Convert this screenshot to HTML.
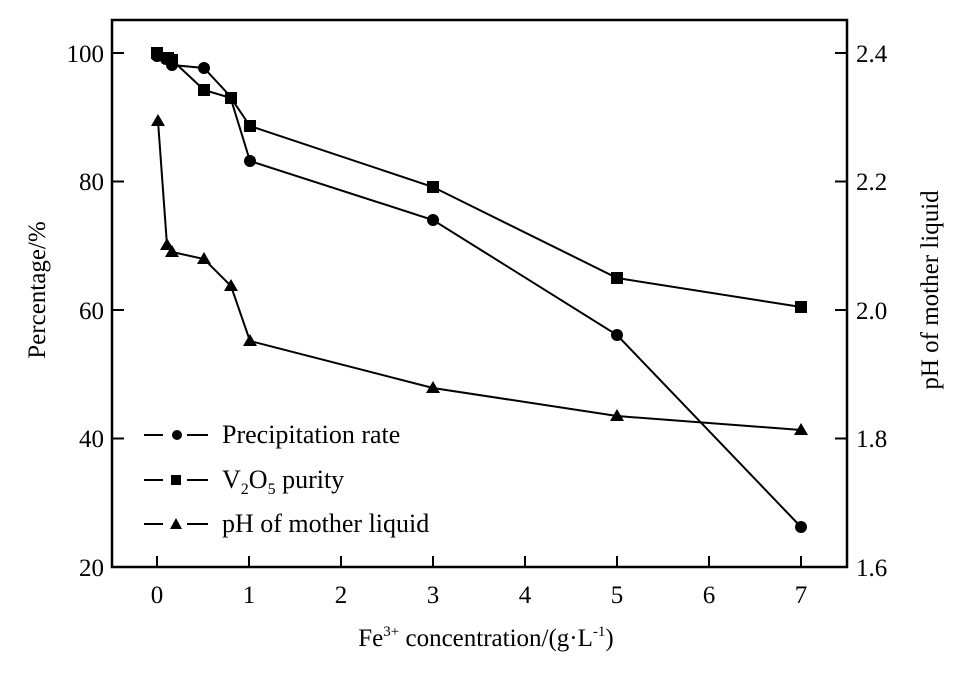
<!DOCTYPE html>
<html><head><style>body{margin:0;background:#fff}</style></head><body>
<svg width="965" height="676" xmlns="http://www.w3.org/2000/svg" font-family="Liberation Serif, serif" fill="#000">
<rect x="112" y="20" width="735" height="547" fill="none" stroke="#000" stroke-width="2.5"/>
<g stroke="#000" stroke-width="2">
<line x1="112" y1="53" x2="124" y2="53"/><line x1="112" y1="181.5" x2="124" y2="181.5"/><line x1="112" y1="310" x2="124" y2="310"/><line x1="112" y1="438.5" x2="124" y2="438.5"/>
<line x1="835" y1="53" x2="847" y2="53"/><line x1="835" y1="181.5" x2="847" y2="181.5"/><line x1="835" y1="310" x2="847" y2="310"/><line x1="835" y1="438.5" x2="847" y2="438.5"/>
<line x1="157" y1="567" x2="157" y2="556"/><line x1="249" y1="567" x2="249" y2="556"/><line x1="341" y1="567" x2="341" y2="556"/><line x1="433" y1="567" x2="433" y2="556"/><line x1="525" y1="567" x2="525" y2="556"/><line x1="617" y1="567" x2="617" y2="556"/><line x1="709" y1="567" x2="709" y2="556"/><line x1="801" y1="567" x2="801" y2="556"/>
</g>
<g font-size="25" text-anchor="end">
<text x="104" y="62">100</text><text x="104" y="190">80</text><text x="104" y="319">60</text><text x="104" y="447">40</text><text x="104" y="576">20</text>
</g>
<g font-size="25">
<text x="856" y="62">2.4</text><text x="856" y="190">2.2</text><text x="856" y="319">2.0</text><text x="856" y="447">1.8</text><text x="856" y="576">1.6</text>
</g>
<g font-size="25" text-anchor="middle">
<text x="157" y="603">0</text><text x="249" y="603">1</text><text x="341" y="603">2</text><text x="433" y="603">3</text><text x="525" y="603">4</text><text x="617" y="603">5</text><text x="709" y="603">6</text><text x="801" y="603">7</text>
<text x="486" y="646" font-size="25">Fe<tspan font-size="15" dy="-10">3+</tspan><tspan dy="10"> concentration/(g·L</tspan><tspan font-size="15" dy="-10">-1</tspan><tspan dy="10">)</tspan></text>
</g>
<text transform="translate(45,290) rotate(-90)" font-size="25" text-anchor="middle">Percentage/%</text>
<text transform="translate(938,290) rotate(-90)" font-size="25" text-anchor="middle">pH of mother liquid</text>
<g fill="none" stroke="#000" stroke-width="2">
<polyline points="157,56 166,59 172,65 204,68 230,96 250,161 433,220 617,335 801,527"/>
<polyline points="157,53 168,58 172,60 204,90 231,98 250,126 433,187 617,278 801,307"/>
<polyline points="158,121 167,245 172,252 204,259 231,286 250,341 433,388 617,416 801,430"/>
</g>
<g>
<circle cx="157" cy="56" r="6"/><circle cx="166" cy="59" r="6"/><circle cx="172" cy="65" r="6"/><circle cx="204" cy="68" r="6"/><circle cx="250" cy="161" r="6"/><circle cx="433" cy="220" r="6"/><circle cx="617" cy="335" r="6"/><circle cx="801" cy="527" r="6"/>
<rect x="151" y="47" width="12" height="12"/><rect x="162" y="52" width="12" height="12"/><rect x="166" y="54" width="12" height="12"/><rect x="198" y="84" width="12" height="12"/><rect x="225" y="92" width="12" height="12"/><rect x="244" y="120" width="12" height="12"/><rect x="427" y="181" width="12" height="12"/><rect x="611" y="272" width="12" height="12"/><rect x="795" y="301" width="12" height="12"/>
<polygon points="158,114 151,126 165,126"/><polygon points="167,238 160,250 174,250"/><polygon points="172,245 165,257 179,257"/><polygon points="204,252 197,264 211,264"/><polygon points="231,279 224,291 238,291"/><polygon points="250,334 243,346 257,346"/><polygon points="433,381 426,393 440,393"/><polygon points="617,409 610,421 624,421"/><polygon points="801,423 794,435 808,435"/>
</g>
<g stroke="#000" stroke-width="2">
<line x1="144" y1="435" x2="208" y2="435"/><line x1="144" y1="480" x2="208" y2="480"/><line x1="144" y1="524" x2="208" y2="524"/>
</g>
<rect x="163" y="427" width="24" height="16" fill="#fff"/><rect x="163" y="472" width="24" height="16" fill="#fff"/><rect x="163" y="516" width="24" height="16" fill="#fff"/>
<circle cx="177" cy="435" r="5"/><rect x="171" y="475" width="10" height="10"/><polygon points="176,518 170,529 182,529"/>
<g font-size="26">
<text x="222" y="443">Precipitation rate</text>
<text x="222" y="488">V<tspan font-size="16" dy="6">2</tspan><tspan dy="-6">O</tspan><tspan font-size="16" dy="6">5</tspan><tspan dy="-6"> purity</tspan></text>
<text x="222" y="532">pH of mother liquid</text>
</g>
</svg>
</body></html>
